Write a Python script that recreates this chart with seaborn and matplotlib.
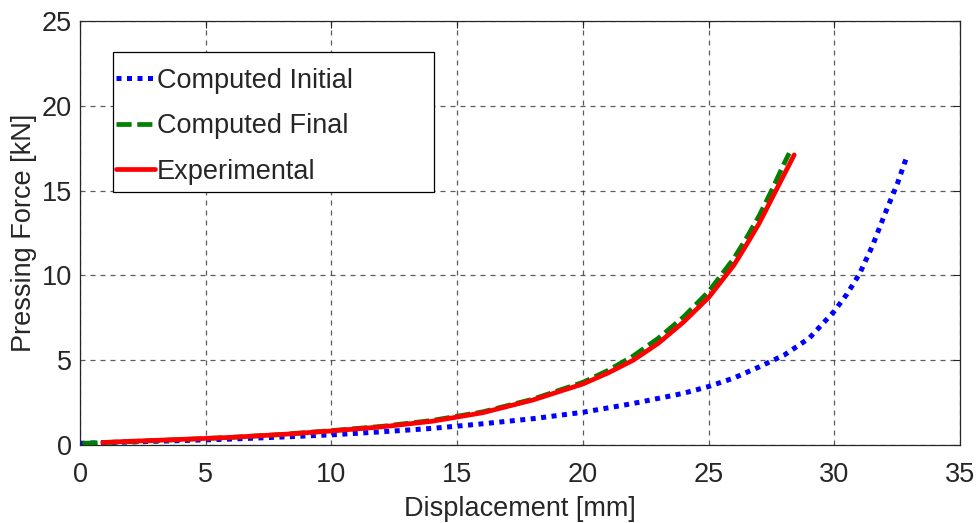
import numpy as np
import pandas as pd
import matplotlib
matplotlib.use("Agg")
import matplotlib.pyplot as plt
from matplotlib.patches import Rectangle
import seaborn as sns

# Computed Initial
x_initial = [0, 2, 4, 6, 8, 10, 12, 14, 16, 18, 20, 22, 23, 24, 25, 26, 27, 28, 29, 30, 30.5, 31, 31.5, 32, 32.5, 32.9]
f_initial = [0.1, 0.18, 0.26, 0.35, 0.47, 0.6, 0.78, 0.98, 1.25, 1.55, 1.93, 2.45, 2.75, 3.05, 3.45, 3.95, 4.6, 5.3, 6.3, 7.9, 8.9, 10.1, 11.7, 13.6, 15.4, 17.1]

# Computed Final
x_final = [0.1, 2, 4, 6, 8, 10, 12, 14, 16, 18, 20, 21, 22, 23, 24, 25, 26, 26.5, 27, 27.5, 28, 28.2]
f_final = [0.1, 0.2, 0.32, 0.45, 0.62, 0.85, 1.1, 1.45, 1.95, 2.7, 3.7, 4.4, 5.25, 6.3, 7.55, 9.05, 11.0, 12.2, 13.5, 15.0, 16.6, 17.2]

# Experimental
x_exp = [0.9, 2, 4, 6, 8, 10, 12, 14, 16, 18, 20, 21, 22, 23, 24, 25, 26, 26.5, 27, 27.5, 28, 28.4]
f_exp = [0.15, 0.22, 0.33, 0.45, 0.62, 0.83, 1.07, 1.4, 1.9, 2.65, 3.6, 4.25, 5.0, 6.0, 7.25, 8.7, 10.6, 11.8, 13.05, 14.5, 15.95, 17.1]

x_ticks = [0, 5, 10, 15, 20, 25, 30, 35]
y_ticks = [0, 5, 10, 15, 20, 25]

sns.set_style("white")
plt.rcParams['font.family'] = ['Liberation Sans', 'DejaVu Sans']
fs = 19.5

fig = plt.figure(figsize=(9.78, 5.23), dpi=100)
ax = fig.add_axes([0.0818, 0.1491, 0.9, 0.811])

sns.lineplot(x=x_initial, y=f_initial, ax=ax, color='#0000ff', lw=3.6,
             linestyle=(0, (1, 1.1)), label='Computed Initial', sort=False)
sns.lineplot(x=x_final, y=f_final, ax=ax, color='#008000', lw=3.4,
             linestyle=(0, (3.2, 1.2)), label='Computed Final', sort=False)
sns.lineplot(x=x_exp, y=f_exp, ax=ax, color='#ff0000', lw=3.4,
             label='Experimental', sort=False)

ax.set_xlim(0, 35)
ax.set_ylim(0, 25)
ax.set_xticks(x_ticks)
ax.set_yticks(y_ticks)
ax.grid(True, linestyle=(0, (4, 4)), color='#262626', alpha=0.75, lw=0.9)
ax.tick_params(direction='in', top=True, right=True, length=5, width=0.8,
               colors='#262626', labelsize=fs)
ax.tick_params(axis='x', pad=12)
ax.tick_params(axis='y', pad=6)
for s in ax.spines.values():
    s.set_color('#262626')
    s.set_linewidth(0.9)

ax.set_xlabel('Displacement [mm]', fontsize=fs, color='#262626', labelpad=6)
ax.set_ylabel('Pressing Force [kN]', fontsize=fs, color='#262626', labelpad=3)

# legend box (MATLAB style, wider than its content)
ax.add_patch(Rectangle((0.0375, 0.5967), 0.3648, 0.3302, transform=ax.transAxes,
                       facecolor='white', edgecolor='black', lw=0.9, zorder=5))
leg = ax.legend(loc='upper left', bbox_to_anchor=(0.0409, 0.889), borderaxespad=0,
                frameon=False, fontsize=fs, handlelength=1.45, handletextpad=0.05,
                labelspacing=0.72, borderpad=0)
leg.set_zorder(6)

fig.savefig('out.png', dpi=100)
